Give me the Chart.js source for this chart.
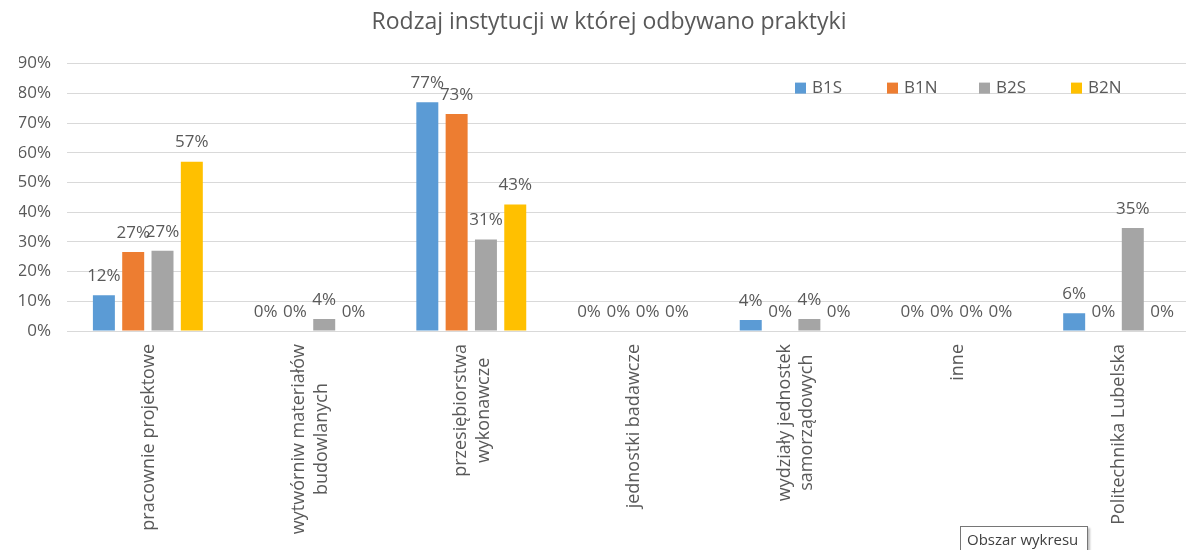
<!DOCTYPE html>
<html>
<head>
<meta charset="utf-8">
<script src="https://cdn.jsdelivr.net/npm/chart.js@4/dist/chart.umd.min.js"></script>
<style>
  html, body { margin: 0; padding: 0; background: #fff; overflow: hidden; }
  #wrap { position: relative; width: 1186px; height: 550px; overflow: hidden; }
  #chart { position: absolute; left: 0; top: 0; }
  #tip {
    position: absolute; left: 960px; top: 526px; width: 128px; height: 26px;
    border: 1px solid #767676; background: #fff; box-shadow: 2px 2px 2px rgba(0,0,0,0.25);
    font: 15px "Open Sans", sans-serif; color: #404040; box-sizing: border-box;
    padding: 2px 0 0 6px; white-space: nowrap;
  }
</style>
</head>
<body>
<div id="wrap">
  <canvas id="chart" width="1218" height="550"></canvas>
  <div id="tip">Obszar wykresu</div>
</div>
<script>
const categories = [
  'pracownie projektowe',
  ['wytwórniw materiałów', 'budowlanych'],
  ['przesiębiorstwa', 'wykonawcze'],
  'jednostki badawcze',
  ['wydziały jednostek', 'samorządowych'],
  'inne',
  'Politechnika Lubelska'
];
const seriesNames = ['B1S', 'B1N', 'B2S', 'B2N'];
const b1s = [12, 0, 77, 0, 3.7, 0, 6];
const b1n = [26.6, 0, 73, 0, 0, 0, 0];
const b2s = [27, 4, 30.8, 0, 4, 0, 34.7];
const b2n = [57, 0, 42.6, 0, 0, 0, 0];
const colors = ['#5B9BD5', '#ED7D31', '#A5A5A5', '#FFC000'];
const yTicks = [0, 10, 20, 30, 40, 50, 60, 70, 80, 90];

const textColor = '#595959';
const fontFamily = '"Open Sans", sans-serif';

// labels above each bar
const barLabels = {
  id: 'barLabels',
  afterDatasetsDraw(chart) {
    const ctx = chart.ctx;
    ctx.save();
    ctx.font = '17px ' + fontFamily;
    ctx.fillStyle = textColor;
    ctx.textAlign = 'center';
    ctx.textBaseline = 'middle';
    chart.data.datasets.forEach((ds, i) => {
      chart.getDatasetMeta(i).data.forEach((bar, j) => {
        ctx.fillText(Math.round(ds.data[j]) + '%', bar.x, bar.y - 19);
      });
    });
    ctx.restore();
  }
};

// rotated category labels: block hangs from the axis, lines centred on each other
const categoryLabels = {
  id: 'categoryLabels',
  afterDraw(chart) {
    const ctx = chart.ctx;
    const xs = chart.scales.x;
    const lineH = 22.5;
    ctx.save();
    ctx.font = '18px ' + fontFamily;
    ctx.fillStyle = textColor;
    ctx.textAlign = 'center';
    ctx.textBaseline = 'middle';
    chart.data.labels.forEach((lab, i) => {
      const lines = Array.isArray(lab) ? lab : [lab];
      const maxW = Math.max(...lines.map(l => ctx.measureText(l).width));
      const x = xs.getPixelForValue(i);
      lines.forEach((line, k) => {
        ctx.save();
        ctx.translate(x + 1 + (k - (lines.length - 1) / 2) * lineH, xs.top + 13 + maxW / 2);
        ctx.rotate(-Math.PI / 2);
        ctx.fillText(line, 0, 0);
        ctx.restore();
      });
    });
    ctx.restore();
  }
};

// legend inside the plot, top right
const insideLegend = {
  id: 'insideLegend',
  afterDraw(chart) {
    const ctx = chart.ctx;
    const area = chart.chartArea;
    ctx.save();
    ctx.font = '17px ' + fontFamily;
    ctx.textBaseline = 'middle';
    ctx.textAlign = 'left';
    let x = area.left + 728;
    const y = area.top + 24;
    chart.data.datasets.forEach(ds => {
      ctx.fillStyle = ds.backgroundColor;
      ctx.fillRect(x, y - 5, 11, 11);
      ctx.fillStyle = textColor;
      ctx.fillText(ds.label, x + 17, y + 1);
      x += 92;
    });
    ctx.restore();
  }
};

const datasets = [b1s, b1n, b2s, b2n].map((vals, i) => ({
  label: seriesNames[i],
  data: vals,
  backgroundColor: colors[i],
  categoryPercentage: 0.725,
  barPercentage: 0.75
}));

new Chart(document.getElementById('chart'), {
  type: 'bar',
  data: { labels: categories, datasets: datasets },
  plugins: [barLabels, categoryLabels, insideLegend],
  options: {
    responsive: false,
    animation: false,
    layout: { padding: { left: 19, right: 19, top: 2, bottom: 0 } },
    plugins: {
      legend: { display: false },
      tooltip: { enabled: false },
      title: {
        display: true,
        text: 'Rodzaj instytucji w której odbywano praktyki',
        color: textColor,
        font: { family: fontFamily, size: 23, weight: 'normal', lineHeight: 1.2 },
        padding: { top: 7, bottom: 27 }
      }
    },
    scales: {
      x: {
        grid: { display: false },
        border: { color: '#D9D9D9' },
        afterFit(axis) { axis.height = 219; },
        ticks: { display: false }
      },
      y: {
        min: 0,
        max: 90,
        afterBuildTicks(axis) { axis.ticks = yTicks.map(v => ({ value: v })); },
        afterFit(axis) { axis.width = 48; },
        grid: { color: '#D9D9D9', drawTicks: false },
        border: { display: false },
        ticks: {
          color: textColor,
          font: { family: fontFamily, size: 17 },
          padding: 16,
          callback: v => v + '%'
        }
      }
    }
  }
});
</script>
</body>
</html>
